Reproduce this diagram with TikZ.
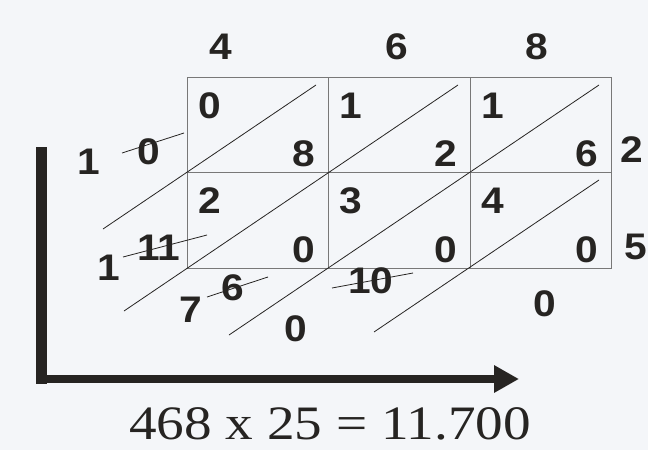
\documentclass[tikz,border=0pt]{standalone}
\usepackage{fontspec}
\setmainfont{Liberation Serif}
\newfontfamily\digitfont[FakeStretch=1.1]{Liberation Sans}
\newfontfamily\eqnfont[FakeStretch=1.15]{Liberation Serif}
\usepackage{xcolor}
\definecolor{paper}{RGB}{244,246,249}
\definecolor{gridgray}{RGB}{120,120,120}
\definecolor{ink}{RGB}{38,36,34}
\usetikzlibrary{arrows.meta,calc}
\tikzset{
  digit/.style={font=\digitfont\bfseries\fontsize{37}{37}\selectfont, text=ink, inner sep=0pt},
  gridline/.style={draw=gridgray, line width=1pt},
  diag/.style={draw=ink, line width=0.8pt},
  strike/.style={draw=ink, line width=0.8pt},
  axisbar/.style={draw=ink, line width=#1},
  eqn/.style={font=\eqnfont\fontsize{48}{48}\selectfont, text=ink, inner sep=0pt},
}

\begin{document}
\begin{tikzpicture}[x=1pt,y=-1pt]
  \fill[paper] (0,0) rectangle (648,450);
  \useasboundingbox (0,0) rectangle (648,450);
  % Grid corners
  \foreach \c/\x in {0/187,1/328,2/470,3/611} {
    \foreach \r/\y in {0/77,1/172,2/268} {
      \coordinate (g\c\r) at (\x,\y);
    }
  }
  % Lattice
  \draw[gridline] (g00) rectangle (g32);
  \draw[gridline] (g01) -- (g31);
  \draw[gridline] (g10) -- (g12);
  \draw[gridline] (g20) -- (g22);
  % Factors
  \node[digit] (top4) at (221,47) {4};
  \node[digit] (top6) at (397,47) {6};
  \node[digit] (top8) at (537,47) {8};
  \node[digit] (side2) at (632,150) {2};
  \node[digit] (side5) at (636,247) {5};
  % Partial products
  \foreach \c/\r/\t/\u [evaluate=\c as \cn using int(\c+1),
                        evaluate=\r as \rn using int(\r+1)]
      in {0/0/0/8,1/0/1/2,2/0/1/6,0/1/2/0,1/1/3/0,2/1/4/0} {
    \node[digit] (tens\c\r) at ($(g\c\r)+(23,29)$) {\t};
    \node[digit] (units\c\r) at ($(g\cn\rn)+(-24,-18)$) {\u};
  }
  % Diagonals
  \coordinate (d1a) at (103,229); \coordinate (d1b) at (316,85);
  \coordinate (d2a) at (124,311); \coordinate (d2b) at (458,85);
  \coordinate (d3a) at (229,335); \coordinate (d3b) at (599,85);
  \coordinate (d4a) at (374,332); \coordinate (d4b) at (599,180);
  \foreach \d in {1,...,4} {
    \draw[diag] (d\d a) -- (d\d b);
  }
  % Sums and carries
  \node[digit] (res1) at (89,162) {1};
  \node[digit] (sum0) at (149,152) {0};
  \node[digit] (res2) at (109,268) {1};
  \node[digit] (sum11) at (159,248) {11};
  \node[digit] (res3) at (191,310) {7};
  \node[digit] (sum6) at (233,288) {6};
  \node[digit] (sum10) at (371,281) {10};
  \node[digit] (res4) at (296,329) {0};
  \node[digit] (res5) at (545,304) {0};
  % Strike-outs
  \coordinate (s1a) at (122,153); \coordinate (s1b) at (184,133);
  \coordinate (s2a) at (123,257); \coordinate (s2b) at (207,235);
  \coordinate (s3a) at (207,297); \coordinate (s3b) at (268,277);
  \coordinate (s4a) at (332,288); \coordinate (s4b) at (413,273);
  \foreach \s in {1,...,4} {
    \draw[strike] (s\s a) -- (s\s b);
  }
  % Reading direction
  \coordinate (vtop) at (41,147);
  \coordinate (vbot) at (41,384);
  \coordinate (hleft) at (36,379);
  \coordinate (htip) at (519,379);
  \draw[axisbar=11pt] (vtop) -- (vbot);
  \draw[axisbar=8pt, -{Triangle[length=25pt,width=26pt]}] (hleft) -- (htip);
  % Result
  \node[eqn] (result) at (330,424) {468 x 25 = 11.700};
\end{tikzpicture}
\end{document}
